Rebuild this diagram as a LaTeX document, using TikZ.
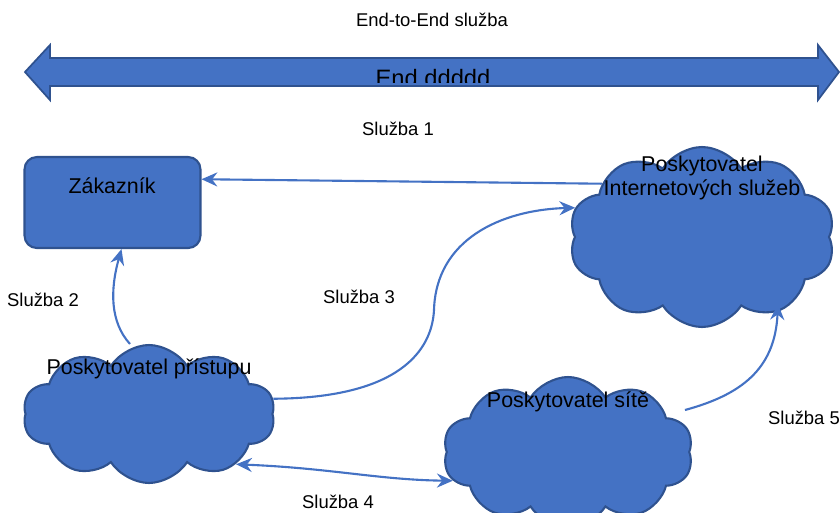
\documentclass[tikz,border=0pt]{standalone}
\usepackage{fontspec}
\setmainfont{Liberation Sans}
\usetikzlibrary{shapes.symbols,arrows.meta,calc}
\definecolor{ofblue}{HTML}{4472C4}
\definecolor{ofedge}{HTML}{2F528F}
\tikzset{
  cloudbox/.style={cloud, cloud puffs=10, cloud puff arc=115, cloud ignores aspect,
    fill=ofblue, draw=ofedge, line width=1.2pt, inner sep=0pt},
  conn/.style={draw=ofblue, line width=1.2pt, -{Stealth[length=9pt,width=8pt,inset=3pt]}},
  conn2/.style={draw=ofblue, line width=1.2pt, {Stealth[length=9pt,width=8pt,inset=3pt]}-{Stealth[length=9pt,width=8pt,inset=3pt]}},
  lbl/.style={font=\fontsize{10.5}{12}\selectfont, text=black},
  big/.style={font=\fontsize{12.2}{13.2}\selectfont, text=black, align=center},
}
\begin{document}
\begin{tikzpicture}[x=0.02cm,y=-0.02cm]
\useasboundingbox (0,0) rectangle (840,512);
\clip (0,0) rectangle (840,512);

% title and block arrow
\node[lbl] (title) at (432,20) {End-to-End služba};
\path[fill=ofblue, draw=ofedge, line width=1pt]
  (25,72) -- (50,45) -- (50,58) -- (818,58) -- (818,45) -- (839,72)
  -- (818,100) -- (818,86) -- (50,86) -- (50,100) -- cycle;
\begin{scope}
  \clip (50,58) rectangle (818,82);
  \node[font=\fontsize{13.5}{15}\selectfont, anchor=base, inner sep=0pt] (endd) at (433,86) {End ddddd};
\end{scope}

% nodes
\node[draw=ofedge, fill=ofblue, line width=1.2pt, rounded corners=7pt,
      minimum width=3.52cm, minimum height=1.82cm] (zak) at (112.5,202.5) {};
\node[big] (zakt) at (112,186) {Zákazník};

\node[cloudbox, minimum width=5.32cm, minimum height=3.6cm] (isp) at (702,237) {};
\node[big] (ispt) at (702,178) {Poskytovatel\\Internetových služeb};

\node[cloudbox, minimum width=5.04cm, minimum height=2.76cm] (acc) at (149,414) {};
\node[big] (acct) at (149,369) {Poskytovatel přístupu};

\node[cloudbox, minimum width=5.0cm, minimum height=3.0cm] (net) at (568,452) {};
\node[big] (nett) at (568,402) {Poskytovatel sítě};

% connectors
\draw[conn] (isp.152) -- ($(zak.north east)!0.25!(zak.south east)$);
\draw[conn] ($(acc.center)+(-19,-70)$) .. controls (110,322) and (110,290) .. ($(zak.south)+(9,0)$);
\draw[conn] (acc.7) .. controls (400,398) and (432,350) .. (434,310)
  .. controls (436,240) and (500,210) .. (isp.167);
\draw[conn2] (acc.330) .. controls (330,468) and (380,480) .. (net.194);
\draw[conn] ($(net.center)+(117,-42)$) .. controls (740,395) and (775,370) .. ($(isp.center)+(76,67)$);

% labels
\node[lbl] (s1) at (398,129) {Služba 1};
\node[lbl] (s2) at (43,300) {Služba 2};
\node[lbl] (s3) at (359,297) {Služba 3};
\node[lbl] (s4) at (338,502) {Služba 4};
\node[lbl] (s5) at (804,418) {Služba 5};
\end{tikzpicture}
\end{document}
